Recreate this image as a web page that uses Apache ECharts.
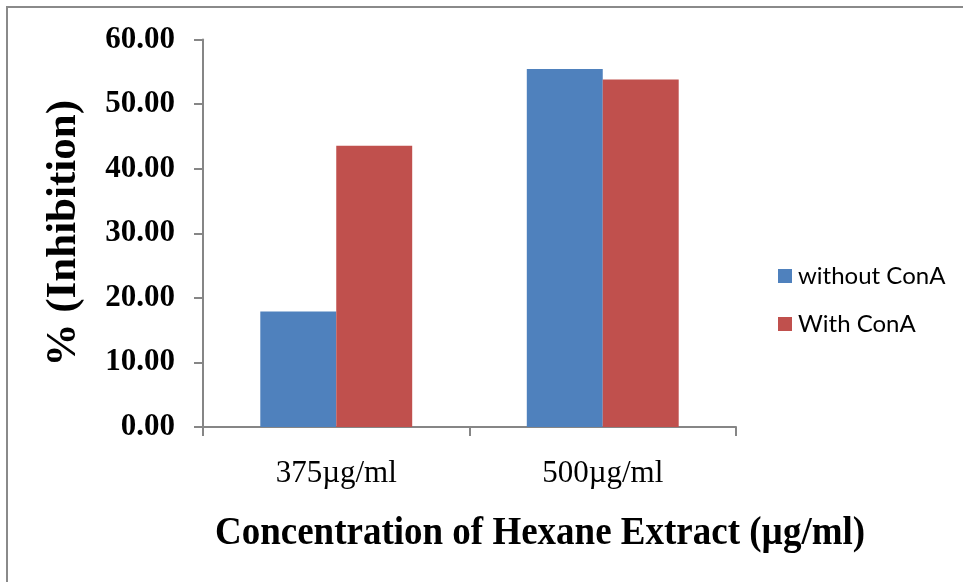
<!DOCTYPE html>
<html>
<head>
<meta charset="utf-8">
<script src="https://cdn.jsdelivr.net/npm/echarts@6/dist/echarts.min.js"></script>
<style>
  html, body { margin: 0; padding: 0; background: #fff; }
  #chart { width: 963px; height: 582px; }
</style>
</head>
<body>
<div id="chart"></div>
<script>
// Inhibition by hexane extract concentration, with and without ConA
const categories = ['375µg/ml', '500µg/ml'];
const withoutConA = [17.9, 55.45];
const withConA = [43.55, 53.8];
const seriesNames = ['without ConA', 'With ConA'];
const yTicks = { min: 0, max: 60, interval: 10 };

const serif = '"Liberation Serif", "Times New Roman", serif';
const axisGray = '#868686';

const chart = echarts.init(document.getElementById('chart'), null, { renderer: 'canvas' });

chart.setOption({
  backgroundColor: '#ffffff',
  animation: false,
  graphic: [
    {
      type: 'rect',
      shape: { x: 7, y: 7, width: 1200, height: 1200 },
      style: { fill: 'none', stroke: '#8a8a8a', lineWidth: 2 },
      silent: true
    },
    {
      type: 'text',
      x: 540,
      y: 534,
      scaleY: 1.08,
      style: {
        text: 'Concentration of Hexane Extract (µg/ml)',
        font: 'bold 37px ' + serif,
        fill: '#000',
        align: 'center',
        verticalAlign: 'middle'
      }
    }
  ],
  grid: { left: 203, right: 227, top: 39.5, bottom: 155 },
  legend: {
    orient: 'vertical',
    left: 773,
    top: 259,
    itemWidth: 14,
    itemHeight: 14,
    itemGap: 24,
    icon: 'rect',
    textStyle: { fontFamily: 'Lato, "Liberation Sans", sans-serif', fontSize: 24, color: '#000', padding: [0, 0, 0, 1] },
    data: seriesNames
  },
  xAxis: {
    type: 'category',
    data: categories,
    axisLine: { lineStyle: { color: axisGray, width: 2 } },
    axisTick: { show: true, length: 9, alignWithLabel: false, lineStyle: { color: axisGray, width: 2 } },
    axisLabel: { color: '#000', fontFamily: serif, fontSize: 31, margin: 31 },
    splitLine: { show: false }
  },
  yAxis: {
    type: 'value',
    min: yTicks.min,
    max: yTicks.max,
    interval: yTicks.interval,
    name: '% (Inhibition)',
    nameLocation: 'middle',
    nameGap: 118,
    nameTextStyle: { color: '#000', fontFamily: serif, fontWeight: 'bold', fontSize: 43 },
    axisLine: { show: true, lineStyle: { color: axisGray, width: 2 } },
    axisTick: { show: true, length: 9, lineStyle: { color: axisGray, width: 2 } },
    axisLabel: {
      color: '#000', fontFamily: serif, fontWeight: 'bold', fontSize: 31, margin: 28,
      formatter: v => v.toFixed(2)
    },
    splitLine: { show: false }
  },
  series: [
    {
      name: seriesNames[0],
      type: 'bar',
      data: withoutConA,
      itemStyle: { color: '#4F81BD' },
      barGap: '0%',
      barCategoryGap: '43%'
    },
    {
      name: seriesNames[1],
      type: 'bar',
      data: withConA,
      itemStyle: { color: '#C0504D' },
      barGap: '0%',
      barCategoryGap: '43%'
    }
  ]
});
</script>
</body>
</html>
